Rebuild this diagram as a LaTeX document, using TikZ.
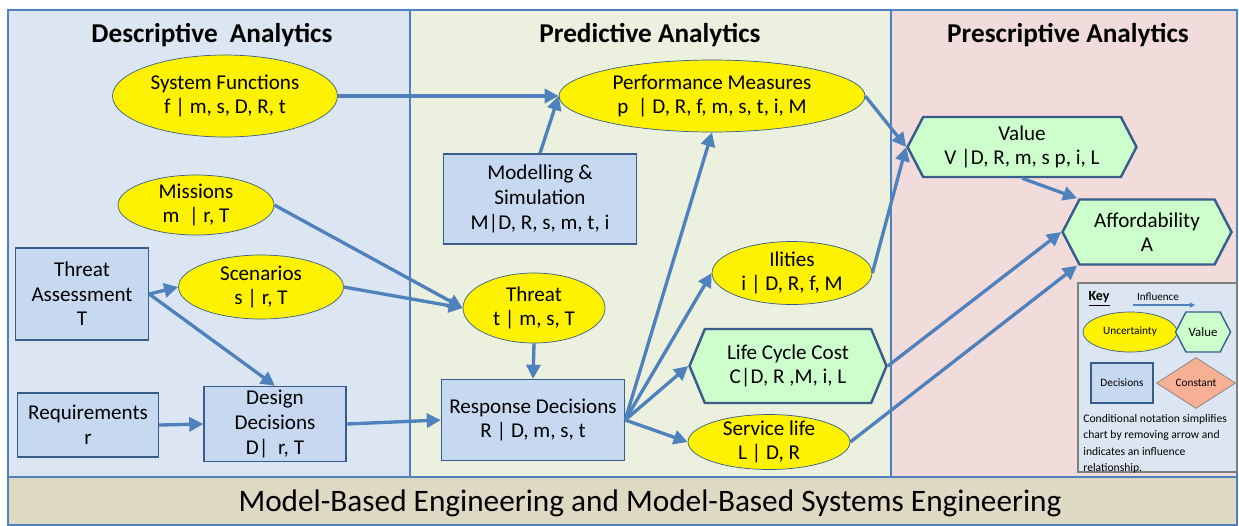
\documentclass[tikz,border=0pt]{standalone}
\usepackage{fontspec}
\setmainfont{Carlito}
\usetikzlibrary{shapes.geometric,shapes.symbols,arrows.meta}

\definecolor{linkblue}{RGB}{79,129,189}
\definecolor{edgeblue}{RGB}{56,93,138}
\definecolor{descfill}{RGB}{220,230,242}
\definecolor{predfill}{RGB}{235,241,222}
\definecolor{prescfill}{RGB}{242,220,219}
\definecolor{boxfill}{RGB}{198,217,241}
\definecolor{hexfill}{RGB}{204,255,204}
\definecolor{bannerfill}{RGB}{221,217,195}
\definecolor{constfill}{RGB}{248,176,148}

\tikzstyle{panel} = [draw=linkblue, line width=0.8pt]
\tikzstyle{paneltitle} = [font=\fontsize{15.5}{18}\selectfont\bfseries]
\tikzstyle{uncertain} = [draw=edgeblue, fill=yellow, ellipse, inner xsep=0pt, inner ysep=-3pt, align=center, font=\fontsize{12}{14}\selectfont]
\tikzstyle{decision} = [draw=edgeblue, fill=boxfill, rectangle, line width=0.8pt, inner sep=0pt, align=center, font=\fontsize{12}{14}\selectfont]
\tikzstyle{valuehex} = [draw=edgeblue, fill=hexfill, signal, signal to=west and east, signal pointer angle=125, line width=1.4pt, inner sep=0pt, align=center, font=\fontsize{12}{14}\selectfont]
\tikzstyle{influence} = [draw=linkblue, line width=1.9pt, -{Triangle[length=8pt,width=8pt]}]

\begin{document}
\begin{tikzpicture}[x=0.02cm, y=-0.02cm]
\useasboundingbox (0,0) rectangle (1239,525);

\draw[panel, fill=descfill] (8,10) rectangle (410,477);
\draw[panel, fill=predfill] (410,10) rectangle (891,477);
\draw[panel, fill=prescfill] (891,10) rectangle (1237,477);
\draw[panel, fill=bannerfill] (8,477) rectangle (1237,525);

\node[paneltitle] (desctitle) at (212,35) {Descriptive~ Analytics};
\node[paneltitle] (predtitle) at (650,35) {Predictive Analytics};
\node[paneltitle] (presctitle) at (1068,35) {Prescriptive Analytics};
\node[font=\fontsize{17.8}{20}\selectfont] (banner) at (650,503) {Model-Based Engineering and Model-Based Systems Engineering};

\node[uncertain, minimum width=4.5cm, minimum height=1.64cm] (sysfun) at (225,96) {System Functions\\f | m, s, D, R, t};
\node[uncertain, minimum width=3.12cm, minimum height=1.2cm] (missions) at (196,205) {Missions\\m~ | r, T};
\node[decision, minimum width=2.66cm, minimum height=1.84cm] (threatass) at (82,294) {Threat\\Assessment\\T};
\node[uncertain, minimum width=3.3cm, minimum height=1.28cm] (scenarios) at (261,287) {Scenarios\\s | r, T};
\node[decision, minimum width=2.82cm, minimum height=1.28cm] (reqs) at (88,425) {Requirements\\r};
\node[decision, minimum width=2.84cm, minimum height=1.5cm] (design) at (275,424) {Design\\Decisions\\D|~ r, T};

\node[uncertain, minimum width=6.12cm, minimum height=1.44cm] (perf) at (712,96) {Performance Measures\\p~ | D, R, f, m, s, t, i, M};
\node[decision, minimum width=3.86cm, minimum height=1.8cm] (model) at (540,199) {Modelling \&\\Simulation\\M|D, R, s, m, t, i};
\node[uncertain, minimum width=2.84cm, minimum height=1.4cm] (threat) at (534,308) {Threat\\t | m, s, T};
\node[decision, minimum width=3.66cm, minimum height=1.62cm] (resp) at (533,420) {Response Decisions\\R | D, m, s, t};
\node[uncertain, minimum width=3.2cm, minimum height=1.26cm] (ilities) at (792,273) {Ilities\\i | D, R, f, M};
\node[valuehex, minimum width=3.94cm, minimum height=1.48cm, signal pointer angle=135] (lcc) at (788,366) {Life Cycle Cost\\C|D, R ,M, i, L};
\node[uncertain, minimum width=3.24cm, minimum height=1.1cm, inner ysep=-5pt] (service) at (769,442) {Service life\\L | D, R};

\node[valuehex, minimum width=4.58cm, minimum height=1.2cm] (value) at (1022,147) {Value\\V |D, R, m, s p, i, L};
\node[valuehex, minimum width=3.38cm, minimum height=1.3cm] (afford) at (1147,232) {Affordability\\A};

\draw[influence] (sysfun.east) -- (perf.west);
\draw[influence] (model.north) -- (perf.west);
\draw[influence] (resp.east) -- (perf.south);
\draw[influence] (perf.east) -- (value.west);
\draw[influence] (ilities.east) -- (value.west);
\draw[influence] (value.south) -- ([xshift=-1.4cm]afford.north);
\draw[influence] (lcc.east) -- (afford.west);
\draw[influence] (service.east) -- ([xshift=-1.4cm]afford.south);
\draw[influence] (missions.east) -- (threat.west);
\draw[influence] (scenarios.east) -- (threat.west);
\draw[influence] (threatass.east) -- (scenarios.west);
\draw[influence] (threatass.east) -- (design.north);
\draw[influence] (reqs.east) -- (design.west);
\draw[influence] (design.east) -- (resp.west);
\draw[influence] (threat.south) -- (resp.north);
\draw[influence] (resp.east) -- (ilities.west);
\draw[influence] (resp.east) -- (lcc.west);
\draw[influence] (resp.east) -- (service.west);

\draw[draw=gray, fill=descfill, line width=0.8pt] (1078,283) rectangle (1237,472);
\node[font=\fontsize{8}{9}\selectfont\bfseries] (keytitle) at (1099,299) {\underline{Key}};
\node[font=\fontsize{6.3}{7}\selectfont] (inflabel) at (1158,297) {Influence};
\coordinate (infstart) at (1133,305);
\coordinate (infend) at (1195,305);
\draw[draw=linkblue, line width=0.6pt, -{Triangle[length=3pt,width=3pt]}] (infstart) -- (infend);
\node[uncertain, minimum width=1.88cm, minimum height=0.8cm, font=\fontsize{6.4}{7}\selectfont] (keyunc) at (1130,332) {Uncertainty};
\node[valuehex, minimum width=1.1cm, minimum height=0.8cm, line width=0.8pt, font=\fontsize{7.3}{8}\selectfont] (keyval) at (1203,332) {Value};
\node[decision, minimum width=1.24cm, minimum height=0.8cm, font=\fontsize{6.4}{7}\selectfont] (keydec) at (1122,383) {Decisions};
\node[draw=gray, fill=constfill, diamond, aspect=1.55, inner sep=0pt, minimum width=1.58cm, minimum height=1.02cm, font=\fontsize{6.4}{7}\selectfont] (keyconst) at (1196,383) {Constant};
\node[anchor=north west, align=left, inner sep=0pt, font=\fontsize{6.6}{9.4}\selectfont] (keynote) at (1083,414) {Conditional notation simplifies\\chart by removing arrow and\\indicates an influence\\relationship.};
\end{tikzpicture}
\end{document}
